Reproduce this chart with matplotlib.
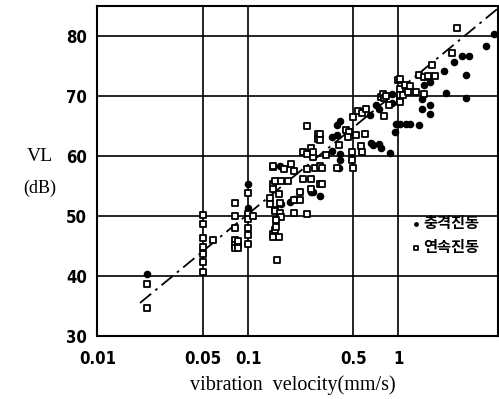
import matplotlib
matplotlib.use("Agg")
import matplotlib.pyplot as plt

# 충격진동 (impact vibration) - filled circles
impact_v = [0.021, 0.1, 0.1, 0.1, 0.163, 0.165, 0.19, 0.2, 0.26, 0.30,
            0.36, 0.39, 0.41, 0.39, 0.36, 0.41, 0.41, 0.40, 0.68, 0.74,
            0.77, 0.88, 0.66, 0.65, 0.71, 0.74, 0.9, 0.9, 0.97, 1.03,
            1.13, 1.2, 1.36, 0.95, 1.43, 1.43, 1.63, 1.63, 1.63, 1.47,
            2.06, 2.0, 2.33, 2.63, 2.93, 2.8, 3.8, 4.3, 2.8, 0.27]
impact_vl = [40.3, 55.4, 51.3, 50.3, 58.3, 52.0, 52.3, 52.8, 54.0, 53.4,
             63.2, 63.5, 65.8, 65.2, 60.9, 60.4, 59.4, 58.0, 61.9, 62.0,
             61.4, 60.5, 62.1, 66.9, 68.5, 67.8, 70.3, 68.8, 65.4, 65.4,
             65.4, 65.4, 65.2, 64.0, 69.5, 67.8, 68.5, 67.0, 72.3, 71.8,
             70.5, 74.1, 75.6, 76.6, 76.6, 73.5, 78.4, 80.3, 69.7, 54.0]

# 연속진동 (continuous vibration) - open squares
cont_v = [0.021, 0.021,
          0.05, 0.05, 0.05, 0.05, 0.05, 0.05, 0.05, 0.058,
          0.082, 0.082, 0.082, 0.082, 0.082, 0.082, 0.086, 0.086, 0.086,
          0.1, 0.1, 0.1, 0.1, 0.1, 0.1, 0.108,
          0.147, 0.147, 0.147, 0.147, 0.147, 0.147, 0.14, 0.14,
          0.15, 0.15, 0.15, 0.15, 0.16, 0.16, 0.163, 0.163, 0.165, 0.165,
          0.154, 0.154, 0.156, 0.173, 0.185, 0.193,
          0.2, 0.2, 0.2, 0.22, 0.22, 0.23, 0.23,
          0.245, 0.245, 0.245, 0.245, 0.26, 0.26, 0.26, 0.27, 0.27, 0.28,
          0.293, 0.293, 0.30, 0.30, 0.30, 0.30, 0.31, 0.31, 0.33,
          0.39, 0.40, 0.45, 0.47, 0.46, 0.49, 0.49, 0.5, 0.5, 0.52,
          0.54, 0.56, 0.57, 0.57, 0.6, 0.61,
          0.76, 0.79, 0.8, 0.8, 0.82, 0.86,
          1.0, 1.03, 1.03, 1.03, 1.03, 1.03, 1.08, 1.1, 1.16, 1.2, 1.3,
          1.36, 1.47, 1.47, 1.58, 1.66, 1.76, 2.26, 2.47]
cont_vl = [38.6, 34.6,
           50.2, 48.7, 46.4, 44.9, 43.7, 42.4, 40.7, 46.0,
           52.1, 50.0, 48.0, 46.0, 45.2, 44.6, 45.2, 44.6, 45.8,
           53.8, 50.3, 49.5, 48.0, 46.9, 45.4, 50.0,
           58.1, 55.3, 54.5, 47.0, 46.5, 58.3, 53.0, 52.0,
           51.0, 50.8, 55.8, 47.6, 53.7, 46.5, 52.2, 50.5, 49.8, 55.8,
           49.3, 48.1, 42.6, 57.8, 55.8, 58.6,
           57.5, 50.5, 52.6, 52.6, 54.0, 56.1, 60.7,
           65.0, 50.4, 60.4, 57.8, 61.3, 56.1, 54.5, 59.9, 60.7, 58.0,
           63.6, 62.8, 58.3, 55.3, 63.7, 62.7, 58.0, 55.3, 60.2,
           58.0, 61.9, 64.4, 64.0, 63.2, 60.7, 59.4, 66.5, 58.0, 63.5,
           67.5, 61.7, 67.1, 60.7, 63.7, 67.9,
           69.8, 70.3, 69.6, 66.6, 70.0, 68.5,
           72.6, 72.8, 71.2, 69.6, 69.0, 70.2, 70.2, 71.8, 70.7, 71.7, 70.7,
           73.5, 73.2, 70.3, 73.4, 75.2, 73.4, 77.2, 81.4]

# regression line end points
line_v = [0.019, 4.6]
line_vl = [35.5, 84.6]

x_ticks = [0.01, 0.05, 0.1, 0.5, 1]
x_ticklabels = ["0.01", "0.05", "0.1", "0.5", "1"]
y_ticks = [30, 40, 50, 60, 70, 80]

num_font = ["DejaVu Sans"]
serif_font = ["Liberation Serif", "DejaVu Serif"]
kr_font = ["Noto Sans CJK KR", "DejaVu Sans"]

fig = plt.figure(figsize=(4.99, 3.99), dpi=100)
ax = fig.add_axes([0.194, 0.158, 0.804, 0.827])

ax.set_xscale("log")
ax.set_xlim(0.0098, 4.6)
ax.set_ylim(30, 85)

for v in [0.05, 0.1, 0.5, 1]:
    ax.axvline(v, color="black", lw=1.2, zorder=1)
for y in [40, 50, 60, 70, 80]:
    ax.axhline(y, color="black", lw=1.2, zorder=1)

ax.plot(line_v, line_vl, color="black", lw=1.3, linestyle=(0, (8, 3, 1.5, 3)), zorder=2)

ax.scatter(impact_v, impact_vl, s=20, marker="o", color="black", zorder=3,
           label="충격진동")
ax.scatter(cont_v, cont_vl, s=24, marker="s", facecolors="white",
           edgecolors="black", linewidths=1.3, zorder=4, label="연속진동")

ax.set_xticks(x_ticks)
ax.set_xticklabels(x_ticklabels)
ax.minorticks_off()
ax.set_yticks(y_ticks)
ax.tick_params(axis="y", length=0, pad=7)
ax.tick_params(axis="x", length=0, pad=10)
for lab in ax.get_xticklabels() + ax.get_yticklabels():
    lab.set_family(num_font)
    lab.set_fontsize(12)
    lab.set_fontweight("bold")
    lab.set_fontstretch("condensed")

for sp in ax.spines.values():
    sp.set_linewidth(1.5)

leg = ax.legend(loc="upper left", bbox_to_anchor=(0.765, 0.385), frameon=False,
                handletextpad=0.1, handlelength=0.8, labelspacing=0.5,
                borderaxespad=0, markerscale=0.55,
                prop={"family": kr_font, "size": 11, "weight": "bold"})

fig.text(0.08, 0.607, "VL", family=serif_font, fontsize=14, ha="center", va="center")
fig.text(0.08, 0.529, "(dB)", family=serif_font, fontsize=13, ha="center", va="center")
fig.text(0.587, 0.035, "vibration  velocity(mm/s)", family=serif_font, fontsize=14.5,
         ha="center", va="center")

fig.savefig("out.png", dpi=100)
